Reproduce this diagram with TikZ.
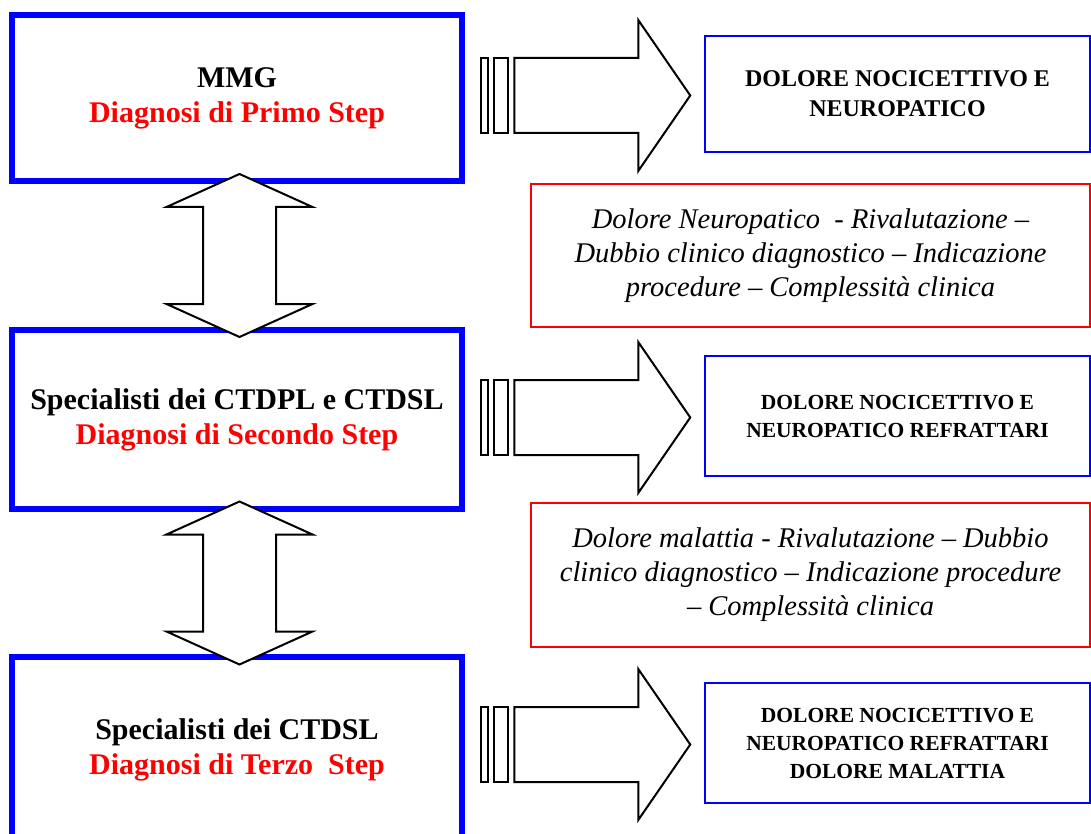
\documentclass[tikz,border=0pt]{standalone}
\usepackage{fontspec}
\setmainfont{Liberation Serif}
\usepackage{tikz}
\usetikzlibrary{shapes,arrows,calc}
\tikzstyle{stepbox} = [rectangle, draw=blue, line width=6pt, 
    minimum width=450pt, align=center, font=\fontsize{30}{35}\selectfont\bfseries]
\tikzstyle{painbox} = [rectangle, draw=blue, line width=1.5pt, 
    minimum width=385pt, minimum height=120pt, align=center, font=\fontsize{21.5}{28}\selectfont\bfseries]
\tikzstyle{notebox} = [rectangle, draw=red, line width=1.5pt, 
    minimum width=559pt, minimum height=144pt, align=center, font=\fontsize{28.5}{34}\selectfont\itshape]
\tikzstyle{bigarrow} = [draw, fill=white, line width=2pt]

\begin{document}
\begin{tikzpicture}[x=1pt, y=-1pt, node distance = auto]
    \useasboundingbox (0,0) rectangle (1091,834);
    % Place nodes
    \node [stepbox, minimum height=166pt] (mmg) at (237,98) {MMG\\ \textcolor{red}{Diagnosi di Primo Step}};
    \node [stepbox, minimum height=179pt, below of=mmg, node distance=321.5pt] (ctdpl) {Specialisti dei CTDPL e CTDSL\\ \textcolor{red}{Diagnosi di Secondo Step}};
    \node [stepbox, minimum height=186pt, below of=ctdpl, node distance=330.5pt] (ctdsl) {Specialisti dei CTDSL\\ \textcolor{red}{Diagnosi di Terzo~ Step}};

    \node [painbox, minimum height=116pt, font=\fontsize{24}{30}\selectfont\bfseries] (dol1) at (897.5,94) {DOLORE NOCICETTIVO E\\ NEUROPATICO};
    \node [painbox] (dol2) at (897.5,416) {DOLORE NOCICETTIVO E\\ NEUROPATICO REFRATTARI};
    \node [painbox] (dol3) at (897.5,743) {DOLORE NOCICETTIVO E\\ NEUROPATICO REFRATTARI\\ DOLORE MALATTIA};

    \node [notebox, minimum height=143pt] (riv1) at (810.5,255.5) {Dolore Neuropatico~ - Rivalutazione –\\ Dubbio clinico diagnostico – Indicazione\\ procedure – Complessità clinica};
    \node [notebox] (riv2) at (810.5,575) {Dolore malattia - Rivalutazione – Dubbio\\ clinico diagnostico – Indicazione procedure\\ – Complessità clinica};

    % Draw arrows
    \coordinate (up1) at ($(mmg.south)!0.5!(ctdpl.north)+(2.5,0)$);
    \coordinate (up2) at ($(ctdpl.south)!0.5!(ctdsl.north)+(2.5,0)$);
    \foreach \u in {up1,up2}
        \path [bigarrow] (\u) +(0,-81.5) -- +(73,-48.5) -- +(36.5,-48.5) -- +(36.5,48.5) -- +(73,48.5) -- +(0,81.5)
            -- +(-73,48.5) -- +(-36.5,48.5) -- +(-36.5,-48.5) -- +(-73,-48.5) -- cycle;
    \foreach \g in {dol1,dol2,dol3} {
        \coordinate (go) at ([xshift=-223pt,yshift=-1.5pt]\g.west);
        \path [bigarrow] (go) +(0,-37.5) rectangle +(7,37.5) +(13,-37.5) rectangle +(27,37.5);
        \path [bigarrow] (go) +(33,-37.5) -- +(157,-37.5) -- +(157,-75.5) -- +(209,0) -- +(157,75.5) -- +(157,37.5) -- +(33,37.5) -- cycle;
    }
\end{tikzpicture}
\end{document}
